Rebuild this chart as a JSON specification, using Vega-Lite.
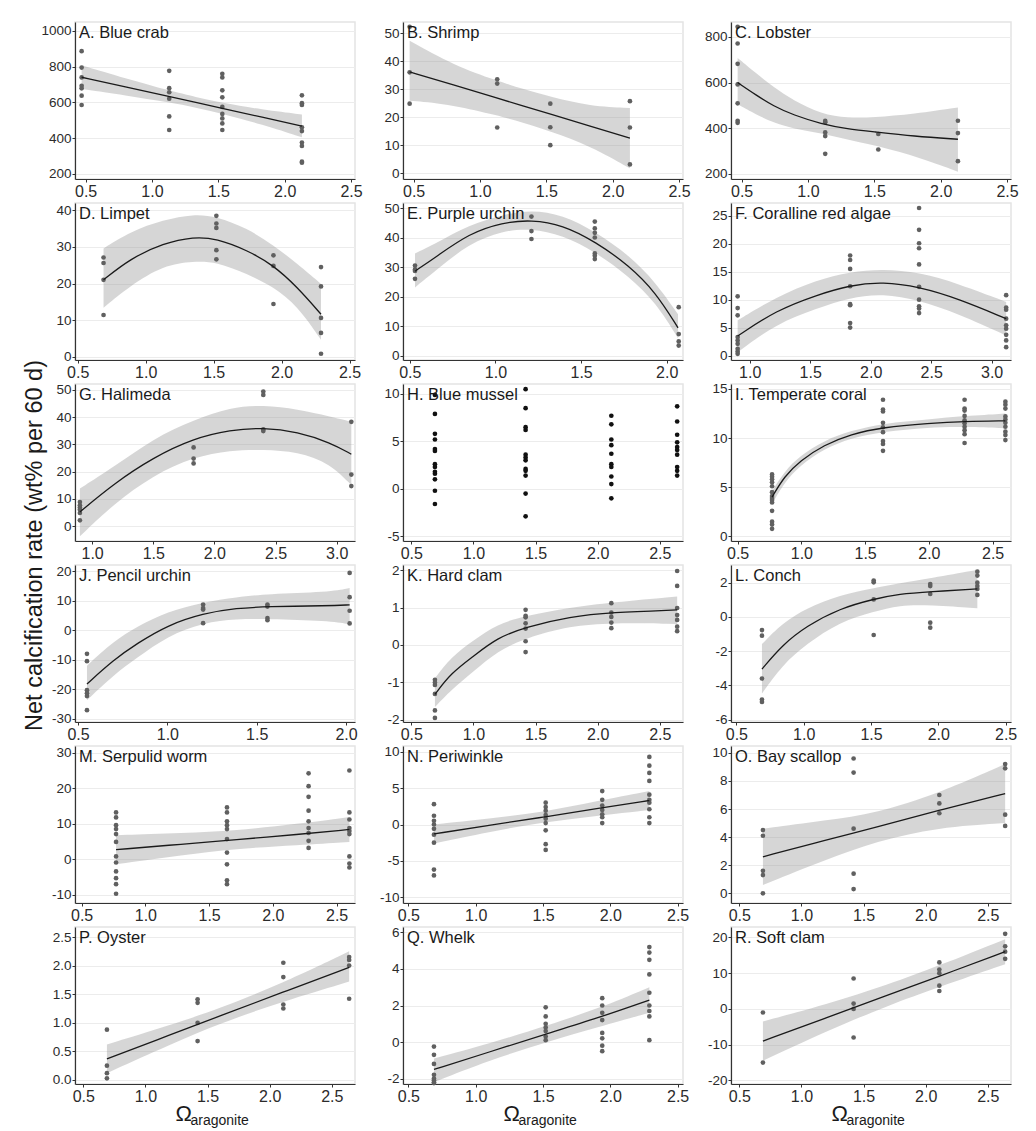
{
"$schema": "https://vega.github.io/schema/vega-lite/v6.json",
"background": "white",
"padding": {"left": 22, "top": 21, "right": 5, "bottom": 5},
"title": {"text": "Net calcification rate (wt% per 60 d)", "orient": "left", "anchor": "middle", "fontSize": 23.5, "font": "Liberation Sans", "fontWeight": "normal", "color": "#1a1a1a", "offset": -6, "dx": 29},
"datasets": {
"pts": [
{"p":"A","x":0.47,"y":887},{"p":"A","x":0.47,"y":795},{"p":"A","x":0.47,"y":740},{"p":"A","x":0.47,"y":693},{"p":"A","x":0.47,"y":679},{"p":"A","x":0.47,"y":638},{"p":"A","x":0.47,"y":586},
{"p":"A","x":1.13,"y":777},{"p":"A","x":1.13,"y":680},{"p":"A","x":1.13,"y":657},{"p":"A","x":1.13,"y":621},{"p":"A","x":1.13,"y":522},{"p":"A","x":1.13,"y":446},
{"p":"A","x":1.53,"y":760},{"p":"A","x":1.53,"y":740},{"p":"A","x":1.53,"y":668},{"p":"A","x":1.53,"y":629},{"p":"A","x":1.53,"y":575},{"p":"A","x":1.53,"y":536},{"p":"A","x":1.53,"y":511},{"p":"A","x":1.53,"y":483},{"p":"A","x":1.53,"y":446},
{"p":"A","x":2.13,"y":640},{"p":"A","x":2.13,"y":596},{"p":"A","x":2.13,"y":586},{"p":"A","x":2.13,"y":461},{"p":"A","x":2.13,"y":440},{"p":"A","x":2.13,"y":376},{"p":"A","x":2.13,"y":357},{"p":"A","x":2.13,"y":269},{"p":"A","x":2.13,"y":263},
{"p":"B","x":0.47,"y":52.4},{"p":"B","x":0.47,"y":36.1},{"p":"B","x":0.47,"y":24.9},{"p":"B","x":1.13,"y":33.6},{"p":"B","x":1.13,"y":32.1},{"p":"B","x":1.13,"y":16.4},{"p":"B","x":1.53,"y":24.9},{"p":"B","x":1.53,"y":16.5},{"p":"B","x":1.53,"y":10.1},{"p":"B","x":2.13,"y":25.8},{"p":"B","x":2.13,"y":16.4},{"p":"B","x":2.13,"y":3.2},
{"p":"C","x":0.47,"y":844},{"p":"C","x":0.47,"y":771},{"p":"C","x":0.47,"y":682},{"p":"C","x":0.47,"y":592},{"p":"C","x":0.47,"y":509},{"p":"C","x":0.47,"y":433},{"p":"C","x":0.47,"y":424},
{"p":"C","x":1.13,"y":432},{"p":"C","x":1.13,"y":426},{"p":"C","x":1.13,"y":382},{"p":"C","x":1.13,"y":366},{"p":"C","x":1.13,"y":288},{"p":"C","x":1.53,"y":375},{"p":"C","x":1.53,"y":307},{"p":"C","x":2.13,"y":433},{"p":"C","x":2.13,"y":379},{"p":"C","x":2.13,"y":256},
{"p":"D","x":0.69,"y":27.1},{"p":"D","x":0.69,"y":25.6},{"p":"D","x":0.69,"y":21.0},{"p":"D","x":0.69,"y":11.4},{"p":"D","x":1.52,"y":38.5},{"p":"D","x":1.52,"y":36.4},{"p":"D","x":1.52,"y":35.2},{"p":"D","x":1.52,"y":29.1},{"p":"D","x":1.52,"y":26.6},
{"p":"D","x":1.94,"y":27.7},{"p":"D","x":1.94,"y":24.8},{"p":"D","x":1.94,"y":14.4},{"p":"D","x":2.29,"y":24.5},{"p":"D","x":2.29,"y":19.2},{"p":"D","x":2.29,"y":10.6},{"p":"D","x":2.29,"y":6.5},{"p":"D","x":2.29,"y":0.8},
{"p":"E","x":0.53,"y":30.5},{"p":"E","x":0.53,"y":29.2},{"p":"E","x":0.53,"y":28.7},{"p":"E","x":0.53,"y":26.0},{"p":"E","x":1.21,"y":47.1},{"p":"E","x":1.21,"y":42.2},{"p":"E","x":1.21,"y":39.5},
{"p":"E","x":1.58,"y":45.4},{"p":"E","x":1.58,"y":43.1},{"p":"E","x":1.58,"y":41.6},{"p":"E","x":1.58,"y":40.0},{"p":"E","x":1.58,"y":34.6},{"p":"E","x":1.58,"y":33.8},{"p":"E","x":1.58,"y":32.7},
{"p":"E","x":2.07,"y":16.4},{"p":"E","x":2.07,"y":7.3},{"p":"E","x":2.07,"y":4.8},{"p":"E","x":2.07,"y":3.4},
{"p":"F","x":0.9,"y":10.6},{"p":"F","x":0.9,"y":8.5},{"p":"F","x":0.9,"y":7.2},{"p":"F","x":0.9,"y":3.3},{"p":"F","x":0.9,"y":2.7},{"p":"F","x":0.9,"y":2.1},{"p":"F","x":0.9,"y":1.2},{"p":"F","x":0.9,"y":0.7},{"p":"F","x":0.9,"y":0.3},
{"p":"F","x":1.83,"y":17.9},{"p":"F","x":1.83,"y":17.1},{"p":"F","x":1.83,"y":15.5},{"p":"F","x":1.83,"y":12.4},{"p":"F","x":1.83,"y":9.2},{"p":"F","x":1.83,"y":9.0},{"p":"F","x":1.83,"y":5.8},{"p":"F","x":1.83,"y":5.0},
{"p":"F","x":2.4,"y":26.4},{"p":"F","x":2.4,"y":22.5},{"p":"F","x":2.4,"y":20.1},{"p":"F","x":2.4,"y":19.2},{"p":"F","x":2.4,"y":16.3},{"p":"F","x":2.4,"y":12.3},{"p":"F","x":2.4,"y":10.0},{"p":"F","x":2.4,"y":8.8},{"p":"F","x":2.4,"y":8.4},{"p":"F","x":2.4,"y":7.6},
{"p":"F","x":3.12,"y":10.8},{"p":"F","x":3.12,"y":8.6},{"p":"F","x":3.12,"y":8.2},{"p":"F","x":3.12,"y":6.6},{"p":"F","x":3.12,"y":5.4},{"p":"F","x":3.12,"y":4.8},{"p":"F","x":3.12,"y":3.7},{"p":"F","x":3.12,"y":2.7},{"p":"F","x":3.12,"y":1.5},
{"p":"G","x":0.9,"y":8.8},{"p":"G","x":0.9,"y":7.6},{"p":"G","x":0.9,"y":6.8},{"p":"G","x":0.9,"y":6.0},{"p":"G","x":0.9,"y":4.8},{"p":"G","x":0.9,"y":2.1},{"p":"G","x":1.83,"y":28.9},{"p":"G","x":1.83,"y":24.8},{"p":"G","x":1.83,"y":23.0},
{"p":"G","x":2.4,"y":49.4},{"p":"G","x":2.4,"y":48.2},{"p":"G","x":2.4,"y":35.5},{"p":"G","x":2.4,"y":34.9},{"p":"G","x":3.12,"y":38.3},{"p":"G","x":3.12,"y":18.9},{"p":"G","x":3.12,"y":14.7},
{"p":"H","x":0.69,"y":9.9},{"p":"H","x":0.69,"y":7.9},{"p":"H","x":0.69,"y":5.8},{"p":"H","x":0.69,"y":5.2},{"p":"H","x":0.69,"y":4.2},{"p":"H","x":0.69,"y":4.0},{"p":"H","x":0.69,"y":2.6},{"p":"H","x":0.69,"y":2.3},{"p":"H","x":0.69,"y":1.8},{"p":"H","x":0.69,"y":1.6},{"p":"H","x":0.69,"y":1.0},{"p":"H","x":0.69,"y":-0.2},{"p":"H","x":0.69,"y":-1.6},
{"p":"H","x":1.42,"y":10.5},{"p":"H","x":1.42,"y":8.5},{"p":"H","x":1.42,"y":6.5},{"p":"H","x":1.42,"y":6.2},{"p":"H","x":1.42,"y":3.6},{"p":"H","x":1.42,"y":3.3},{"p":"H","x":1.42,"y":3.0},{"p":"H","x":1.42,"y":2.1},{"p":"H","x":1.42,"y":1.9},{"p":"H","x":1.42,"y":1.4},{"p":"H","x":1.42,"y":-0.5},{"p":"H","x":1.42,"y":-2.9},
{"p":"H","x":2.11,"y":7.7},{"p":"H","x":2.11,"y":6.8},{"p":"H","x":2.11,"y":5.2},{"p":"H","x":2.11,"y":4.6},{"p":"H","x":2.11,"y":3.7},{"p":"H","x":2.11,"y":2.6},{"p":"H","x":2.11,"y":2.3},{"p":"H","x":2.11,"y":1.3},{"p":"H","x":2.11,"y":0.5},{"p":"H","x":2.11,"y":-1.0},
{"p":"H","x":2.64,"y":8.7},{"p":"H","x":2.64,"y":7.1},{"p":"H","x":2.64,"y":5.7},{"p":"H","x":2.64,"y":4.9},{"p":"H","x":2.64,"y":4.4},{"p":"H","x":2.64,"y":4.1},{"p":"H","x":2.64,"y":3.6},{"p":"H","x":2.64,"y":2.3},{"p":"H","x":2.64,"y":1.9},{"p":"H","x":2.64,"y":1.4},
{"p":"I","x":0.77,"y":6.3},{"p":"I","x":0.77,"y":6.06},{"p":"I","x":0.77,"y":5.8},{"p":"I","x":0.77,"y":5.5},{"p":"I","x":0.77,"y":5.1},{"p":"I","x":0.77,"y":4.5},{"p":"I","x":0.77,"y":4.1},{"p":"I","x":0.77,"y":3.9},{"p":"I","x":0.77,"y":3.7},{"p":"I","x":0.77,"y":3.45},{"p":"I","x":0.77,"y":2.6},{"p":"I","x":0.77,"y":1.5},{"p":"I","x":0.77,"y":1.2},{"p":"I","x":0.77,"y":0.77},
{"p":"I","x":1.64,"y":13.9},{"p":"I","x":1.64,"y":12.9},{"p":"I","x":1.64,"y":12.7},{"p":"I","x":1.64,"y":11.55},{"p":"I","x":1.64,"y":11.1},{"p":"I","x":1.64,"y":10.6},{"p":"I","x":1.64,"y":9.7},{"p":"I","x":1.64,"y":9.4},{"p":"I","x":1.64,"y":8.7},
{"p":"I","x":2.28,"y":13.9},{"p":"I","x":2.28,"y":13.0},{"p":"I","x":2.28,"y":12.8},{"p":"I","x":2.28,"y":12.25},{"p":"I","x":2.28,"y":11.8},{"p":"I","x":2.28,"y":11.5},{"p":"I","x":2.28,"y":11.15},{"p":"I","x":2.28,"y":10.8},{"p":"I","x":2.28,"y":10.4},{"p":"I","x":2.28,"y":9.5},
{"p":"I","x":2.6,"y":13.7},{"p":"I","x":2.6,"y":13.4},{"p":"I","x":2.6,"y":13.0},{"p":"I","x":2.6,"y":12.2},{"p":"I","x":2.6,"y":11.9},{"p":"I","x":2.6,"y":11.55},{"p":"I","x":2.6,"y":11.15},{"p":"I","x":2.6,"y":10.65},{"p":"I","x":2.6,"y":10.3},{"p":"I","x":2.6,"y":9.8},
{"p":"J","x":0.55,"y":-8.0},{"p":"J","x":0.55,"y":-10.5},{"p":"J","x":0.55,"y":-20.3},{"p":"J","x":0.55,"y":-21.4},{"p":"J","x":0.55,"y":-22.3},{"p":"J","x":0.55,"y":-27.1},
{"p":"J","x":1.2,"y":8.7},{"p":"J","x":1.2,"y":7.5},{"p":"J","x":1.2,"y":7.0},{"p":"J","x":1.2,"y":2.4},{"p":"J","x":1.56,"y":8.7},{"p":"J","x":1.56,"y":8.0},{"p":"J","x":1.56,"y":4.1},{"p":"J","x":1.56,"y":3.4},
{"p":"J","x":2.02,"y":19.4},{"p":"J","x":2.02,"y":11.2},{"p":"J","x":2.02,"y":6.6},{"p":"J","x":2.02,"y":2.3},
{"p":"K","x":0.69,"y":-0.93},{"p":"K","x":0.69,"y":-1.0},{"p":"K","x":0.69,"y":-1.07},{"p":"K","x":0.69,"y":-1.31},{"p":"K","x":0.69,"y":-1.75},{"p":"K","x":0.69,"y":-1.95},
{"p":"K","x":1.42,"y":0.94},{"p":"K","x":1.42,"y":0.78},{"p":"K","x":1.42,"y":0.74},{"p":"K","x":1.42,"y":0.58},{"p":"K","x":1.42,"y":0.44},{"p":"K","x":1.42,"y":0.1},{"p":"K","x":1.42,"y":-0.19},
{"p":"K","x":2.11,"y":1.12},{"p":"K","x":2.11,"y":0.87},{"p":"K","x":2.11,"y":0.75},{"p":"K","x":2.11,"y":0.6},{"p":"K","x":2.11,"y":0.45},
{"p":"K","x":2.64,"y":1.98},{"p":"K","x":2.64,"y":1.58},{"p":"K","x":2.64,"y":0.99},{"p":"K","x":2.64,"y":0.8},{"p":"K","x":2.64,"y":0.67},{"p":"K","x":2.64,"y":0.49},{"p":"K","x":2.64,"y":0.37},
{"p":"L","x":0.69,"y":-0.77},{"p":"L","x":0.69,"y":-1.1},{"p":"L","x":0.69,"y":-3.6},{"p":"L","x":0.69,"y":-4.83},{"p":"L","x":0.69,"y":-4.97},
{"p":"L","x":1.52,"y":2.12},{"p":"L","x":1.52,"y":2.02},{"p":"L","x":1.52,"y":1.02},{"p":"L","x":1.52,"y":-1.06},
{"p":"L","x":1.94,"y":1.92},{"p":"L","x":1.94,"y":1.8},{"p":"L","x":1.94,"y":1.34},{"p":"L","x":1.94,"y":-0.34},{"p":"L","x":1.94,"y":-0.63},
{"p":"L","x":2.29,"y":2.64},{"p":"L","x":2.29,"y":2.41},{"p":"L","x":2.29,"y":2.0},{"p":"L","x":2.29,"y":1.8},{"p":"L","x":2.29,"y":1.63},{"p":"L","x":2.29,"y":1.28},
{"p":"M","x":0.77,"y":13.2},{"p":"M","x":0.77,"y":11.8},{"p":"M","x":0.77,"y":9.6},{"p":"M","x":0.77,"y":8.5},{"p":"M","x":0.77,"y":7.1},{"p":"M","x":0.77,"y":4.9},{"p":"M","x":0.77,"y":0.8},{"p":"M","x":0.77,"y":-0.9},{"p":"M","x":0.77,"y":-3.4},{"p":"M","x":0.77,"y":-5.3},{"p":"M","x":0.77,"y":-7.0},{"p":"M","x":0.77,"y":-9.7},
{"p":"M","x":1.64,"y":14.6},{"p":"M","x":1.64,"y":13.2},{"p":"M","x":1.64,"y":10.7},{"p":"M","x":1.64,"y":9.6},{"p":"M","x":1.64,"y":8.5},{"p":"M","x":1.64,"y":5.7},{"p":"M","x":1.64,"y":1.9},{"p":"M","x":1.64,"y":-1.4},{"p":"M","x":1.64,"y":-5.9},{"p":"M","x":1.64,"y":-7.0},
{"p":"M","x":2.28,"y":24.2},{"p":"M","x":2.28,"y":20.6},{"p":"M","x":2.28,"y":17.6},{"p":"M","x":2.28,"y":13.7},{"p":"M","x":2.28,"y":10.7},{"p":"M","x":2.28,"y":8.8},{"p":"M","x":2.28,"y":7.4},{"p":"M","x":2.28,"y":5.2},{"p":"M","x":2.28,"y":3.2},
{"p":"M","x":2.6,"y":25.0},{"p":"M","x":2.6,"y":13.2},{"p":"M","x":2.6,"y":11.2},{"p":"M","x":2.6,"y":8.8},{"p":"M","x":2.6,"y":8.0},{"p":"M","x":2.6,"y":7.1},{"p":"M","x":2.6,"y":0.8},{"p":"M","x":2.6,"y":-1.2},{"p":"M","x":2.6,"y":-2.3},
{"p":"N","x":0.69,"y":2.8},{"p":"N","x":0.69,"y":1.2},{"p":"N","x":0.69,"y":0.5},{"p":"N","x":0.69,"y":0.0},{"p":"N","x":0.69,"y":-0.6},{"p":"N","x":0.69,"y":-1.4},{"p":"N","x":0.69,"y":-2.5},{"p":"N","x":0.69,"y":-6.2},{"p":"N","x":0.69,"y":-7.0},
{"p":"N","x":1.52,"y":3.0},{"p":"N","x":1.52,"y":2.4},{"p":"N","x":1.52,"y":1.9},{"p":"N","x":1.52,"y":1.3},{"p":"N","x":1.52,"y":0.8},{"p":"N","x":1.52,"y":0.2},{"p":"N","x":1.52,"y":-0.8},{"p":"N","x":1.52,"y":-2.7},{"p":"N","x":1.52,"y":-3.5},
{"p":"N","x":1.94,"y":4.6},{"p":"N","x":1.94,"y":3.4},{"p":"N","x":1.94,"y":2.6},{"p":"N","x":1.94,"y":2.0},{"p":"N","x":1.94,"y":1.4},{"p":"N","x":1.94,"y":1.0},{"p":"N","x":1.94,"y":0.2},
{"p":"N","x":2.29,"y":9.3},{"p":"N","x":2.29,"y":8.1},{"p":"N","x":2.29,"y":7.1},{"p":"N","x":2.29,"y":6.0},{"p":"N","x":2.29,"y":4.1},{"p":"N","x":2.29,"y":3.4},{"p":"N","x":2.29,"y":3.0},{"p":"N","x":2.29,"y":2.1},{"p":"N","x":2.29,"y":1.0},{"p":"N","x":2.29,"y":0.2},
{"p":"O","x":0.69,"y":4.5},{"p":"O","x":0.69,"y":4.1},{"p":"O","x":0.69,"y":1.6},{"p":"O","x":0.69,"y":1.3},{"p":"O","x":0.69,"y":0.0},
{"p":"O","x":1.42,"y":9.6},{"p":"O","x":1.42,"y":8.6},{"p":"O","x":1.42,"y":4.6},{"p":"O","x":1.42,"y":1.4},{"p":"O","x":1.42,"y":0.3},
{"p":"O","x":2.11,"y":7.0},{"p":"O","x":2.11,"y":6.4},{"p":"O","x":2.11,"y":5.7},{"p":"O","x":2.64,"y":9.2},{"p":"O","x":2.64,"y":8.9},{"p":"O","x":2.64,"y":5.6},{"p":"O","x":2.64,"y":4.8},
{"p":"P","x":0.69,"y":0.88},{"p":"P","x":0.69,"y":0.25},{"p":"P","x":0.69,"y":0.12},{"p":"P","x":0.69,"y":0.03},{"p":"P","x":1.42,"y":1.41},{"p":"P","x":1.42,"y":1.35},{"p":"P","x":1.42,"y":1.0},{"p":"P","x":1.42,"y":0.68},
{"p":"P","x":2.11,"y":2.05},{"p":"P","x":2.11,"y":1.8},{"p":"P","x":2.11,"y":1.32},{"p":"P","x":2.11,"y":1.25},{"p":"P","x":2.64,"y":2.15},{"p":"P","x":2.64,"y":2.1},{"p":"P","x":2.64,"y":2.0},{"p":"P","x":2.64,"y":1.42},
{"p":"Q","x":0.69,"y":-0.25},{"p":"Q","x":0.69,"y":-0.7},{"p":"Q","x":0.69,"y":-1.2},{"p":"Q","x":0.69,"y":-1.8},{"p":"Q","x":0.69,"y":-2.0},{"p":"Q","x":0.69,"y":-2.1},{"p":"Q","x":0.69,"y":-2.2},{"p":"Q","x":0.69,"y":-2.25},
{"p":"Q","x":1.52,"y":1.9},{"p":"Q","x":1.52,"y":1.4},{"p":"Q","x":1.52,"y":1.0},{"p":"Q","x":1.52,"y":0.8},{"p":"Q","x":1.52,"y":0.6},{"p":"Q","x":1.52,"y":0.3},{"p":"Q","x":1.52,"y":0.1},
{"p":"Q","x":1.94,"y":2.4},{"p":"Q","x":1.94,"y":2.0},{"p":"Q","x":1.94,"y":1.6},{"p":"Q","x":1.94,"y":1.2},{"p":"Q","x":1.94,"y":0.5},{"p":"Q","x":1.94,"y":0.2},{"p":"Q","x":1.94,"y":-0.2},{"p":"Q","x":1.94,"y":-0.5},
{"p":"Q","x":2.29,"y":5.2},{"p":"Q","x":2.29,"y":4.9},{"p":"Q","x":2.29,"y":4.5},{"p":"Q","x":2.29,"y":3.7},{"p":"Q","x":2.29,"y":2.7},{"p":"Q","x":2.29,"y":2.0},{"p":"Q","x":2.29,"y":1.7},{"p":"Q","x":2.29,"y":1.4},{"p":"Q","x":2.29,"y":0.1},
{"p":"R","x":0.69,"y":-1.0},{"p":"R","x":0.69,"y":-15.0},{"p":"R","x":1.42,"y":8.5},{"p":"R","x":1.42,"y":1.5},{"p":"R","x":1.42,"y":0.0},{"p":"R","x":1.42,"y":-8.0},
{"p":"R","x":2.11,"y":13.0},{"p":"R","x":2.11,"y":11.0},{"p":"R","x":2.11,"y":10.0},{"p":"R","x":2.11,"y":6.5},{"p":"R","x":2.11,"y":5.0},{"p":"R","x":2.64,"y":21.0},{"p":"R","x":2.64,"y":17.5},{"p":"R","x":2.64,"y":16.0},{"p":"R","x":2.64,"y":14.0}
],
"fit": [
{"p":"A","x":0.47,"y":741,"lo":675,"hi":808},{"p":"A","x":0.8,"y":687,"lo":640,"hi":735},{"p":"A","x":1.13,"y":633,"lo":600,"hi":667},{"p":"A","x":1.33,"y":600,"lo":572,"hi":630},{"p":"A","x":1.53,"y":567,"lo":537,"hi":598},{"p":"A","x":1.83,"y":518,"lo":477,"hi":560},{"p":"A","x":2.13,"y":468,"lo":405,"hi":533},
{"p":"B","x":0.47,"y":36.3,"lo":26,"hi":47.4},{"p":"B","x":0.8,"y":31.6,"lo":24.5,"hi":38.7},{"p":"B","x":1.13,"y":26.9,"lo":20.7,"hi":33.1},{"p":"B","x":1.32,"y":24.2,"lo":18.2,"hi":30.2},{"p":"B","x":1.53,"y":21.2,"lo":15,"hi":27.4},{"p":"B","x":1.83,"y":16.9,"lo":9.8,"hi":24},{"p":"B","x":2.13,"y":12.6,"lo":1.8,"hi":23.4},
{"p":"C","x":0.47,"y":600,"lo":505,"hi":708},{"p":"C","x":0.61,"y":545,"lo":460,"hi":640},{"p":"C","x":0.74,"y":497,"lo":425,"hi":580},{"p":"C","x":0.89,"y":458,"lo":398,"hi":522},{"p":"C","x":1.1,"y":419,"lo":378,"hi":462},{"p":"C","x":1.3,"y":397,"lo":350,"hi":445},{"p":"C","x":1.49,"y":385,"lo":327,"hi":447},{"p":"C","x":1.8,"y":365,"lo":280,"hi":462},{"p":"C","x":2.13,"y":352,"lo":210,"hi":491},
{"p":"D","x":0.69,"y":21,"lo":13.4,"hi":29.6},{"p":"D","x":0.886,"y":26.8,"lo":19.4,"hi":34.2},{"p":"D","x":1.13,"y":31,"lo":25,"hi":37.4},{"p":"D","x":1.354,"y":32.8,"lo":26.1,"hi":39},{"p":"D","x":1.52,"y":32.3,"lo":25.9,"hi":38.3},{"p":"D","x":1.747,"y":29.1,"lo":22.6,"hi":35.1},{"p":"D","x":1.94,"y":25,"lo":19.1,"hi":30.5},{"p":"D","x":2.116,"y":19,"lo":13.9,"hi":25.4},{"p":"D","x":2.29,"y":11.6,"lo":4.6,"hi":19.9},
{"p":"E","x":0.53,"y":28.6,"lo":23.1,"hi":34.6},{"p":"E","x":0.652,"y":33.4,"lo":28.8,"hi":38},{"p":"E","x":0.846,"y":41.4,"lo":38,"hi":44.3},{"p":"E","x":1.041,"y":45.1,"lo":42.3,"hi":47.7},{"p":"E","x":1.21,"y":46,"lo":43.1,"hi":49.4},{"p":"E","x":1.391,"y":44.3,"lo":40.8,"hi":47.7},{"p":"E","x":1.584,"y":38.6,"lo":35.1,"hi":42},{"p":"E","x":1.78,"y":30.5,"lo":26.8,"hi":34},{"p":"E","x":1.936,"y":21.4,"lo":18,"hi":24.8},{"p":"E","x":2.066,"y":9.4,"lo":5.9,"hi":14},
{"p":"F","x":0.9,"y":3.5,"lo":0.6,"hi":6.3},{"p":"F","x":1.22,"y":8.1,"lo":5.7,"hi":10.5},{"p":"F","x":1.55,"y":10.8,"lo":8.4,"hi":13.5},{"p":"F","x":1.83,"y":12.6,"lo":10.4,"hi":15},{"p":"F","x":2.1,"y":13.2,"lo":11.1,"hi":15.5},{"p":"F","x":2.4,"y":12.3,"lo":9.9,"hi":14.9},{"p":"F","x":2.72,"y":10.2,"lo":7.5,"hi":12.9},{"p":"F","x":3.12,"y":6.6,"lo":3.6,"hi":9.6},
{"p":"G","x":0.9,"y":5.2,"lo":-3.8,"hi":13.8},{"p":"G","x":1.178,"y":15.6,"lo":8.2,"hi":21.7},{"p":"G","x":1.5,"y":25.2,"lo":18.7,"hi":32.2},{"p":"G","x":1.83,"y":32.2,"lo":25.4,"hi":38.9},{"p":"G","x":2.13,"y":35.3,"lo":27.9,"hi":43.6},{"p":"G","x":2.4,"y":36.2,"lo":28.1,"hi":44.5},{"p":"G","x":2.68,"y":34.6,"lo":27.3,"hi":42.9},{"p":"G","x":2.95,"y":30.6,"lo":23,"hi":40.2},{"p":"G","x":3.12,"y":26.4,"lo":15,"hi":38.3},
{"p":"I","x":0.77,"y":4,"lo":3.3,"hi":4.6},{"p":"I","x":0.866,"y":6.1,"lo":5.5,"hi":6.6},{"p":"I","x":0.99,"y":7.7,"lo":7.2,"hi":8.2},{"p":"I","x":1.178,"y":9.3,"lo":8.9,"hi":9.75},{"p":"I","x":1.387,"y":10.4,"lo":10,"hi":10.75},{"p":"I","x":1.64,"y":11.1,"lo":10.65,"hi":11.5},{"p":"I","x":2,"y":11.5,"lo":11.1,"hi":11.9},{"p":"I","x":2.28,"y":11.7,"lo":11.15,"hi":12.25},{"p":"I","x":2.6,"y":11.75,"lo":11,"hi":12.5},
{"p":"J","x":0.55,"y":-18.2,"lo":-23.7,"hi":-12},{"p":"J","x":0.7,"y":-10,"lo":-15.1,"hi":-3.7},{"p":"J","x":0.83,"y":-4.5,"lo":-9.4,"hi":1.2},{"p":"J","x":1,"y":1.7,"lo":-2,"hi":6.3},{"p":"J","x":1.2,"y":5.7,"lo":2.6,"hi":9.5},{"p":"J","x":1.39,"y":7.5,"lo":3.8,"hi":11.2},{"p":"J","x":1.556,"y":8,"lo":3.8,"hi":12.3},{"p":"J","x":1.9,"y":8.3,"lo":3.2,"hi":12.9},{"p":"J","x":2.02,"y":8.6,"lo":2,"hi":14.3},
{"p":"K","x":0.69,"y":-1.32,"lo":-1.66,"hi":-0.89},{"p":"K","x":0.82,"y":-0.75,"lo":-1.2,"hi":-0.32},{"p":"K","x":1,"y":-0.3,"lo":-0.71,"hi":0.12},{"p":"K","x":1.19,"y":0.19,"lo":-0.17,"hi":0.56},{"p":"K","x":1.42,"y":0.48,"lo":0.19,"hi":0.78},{"p":"K","x":1.78,"y":0.76,"lo":0.51,"hi":1},{"p":"K","x":2.11,"y":0.87,"lo":0.6,"hi":1.14},{"p":"K","x":2.64,"y":0.94,"lo":0.56,"hi":1.3},
{"p":"L","x":0.69,"y":-3.05,"lo":-4.48,"hi":-1.59},{"p":"L","x":0.84,"y":-1.65,"lo":-2.82,"hi":-0.38},{"p":"L","x":1.02,"y":-0.54,"lo":-1.59,"hi":0.5},{"p":"L","x":1.27,"y":0.5,"lo":-0.28,"hi":1.28},{"p":"L","x":1.52,"y":1.04,"lo":0.3,"hi":1.67},{"p":"L","x":1.71,"y":1.34,"lo":0.69,"hi":1.96},{"p":"L","x":1.94,"y":1.47,"lo":0.69,"hi":2.25},{"p":"L","x":2.29,"y":1.63,"lo":0.5,"hi":2.74},
{"p":"M","x":0.77,"y":2.7,"lo":-1.4,"hi":6.8},{"p":"M","x":1.3,"y":4.3,"lo":1.2,"hi":7.4},{"p":"M","x":1.7,"y":5.5,"lo":3,"hi":8},{"p":"M","x":2.2,"y":7,"lo":4,"hi":10},{"p":"M","x":2.6,"y":8.4,"lo":4.9,"hi":11.9},
{"p":"N","x":0.69,"y":-1.3,"lo":-2.6,"hi":0},{"p":"N","x":1.1,"y":-0.1,"lo":-1,"hi":0.8},{"p":"N","x":1.5,"y":1,"lo":0.3,"hi":1.7},{"p":"N","x":1.9,"y":2.2,"lo":1.2,"hi":3.2},{"p":"N","x":2.29,"y":3.3,"lo":2,"hi":4.6},
{"p":"O","x":0.69,"y":2.6,"lo":0.6,"hi":4.6},{"p":"O","x":1.2,"y":3.8,"lo":2.4,"hi":5.2},{"p":"O","x":1.6,"y":4.7,"lo":3.7,"hi":5.7},{"p":"O","x":2.1,"y":5.9,"lo":4.7,"hi":7.1},{"p":"O","x":2.64,"y":7.1,"lo":5,"hi":9.2},
{"p":"P","x":0.69,"y":0.37,"lo":0.12,"hi":0.62},{"p":"P","x":1.2,"y":0.79,"lo":0.62,"hi":0.96},{"p":"P","x":1.6,"y":1.12,"lo":0.99,"hi":1.25},{"p":"P","x":2.1,"y":1.53,"lo":1.37,"hi":1.69},{"p":"P","x":2.64,"y":1.97,"lo":1.72,"hi":2.25},
{"p":"Q","x":0.69,"y":-1.5,"lo":-2.2,"hi":-0.9},{"p":"Q","x":1.1,"y":-0.55,"lo":-1,"hi":-0.1},{"p":"Q","x":1.55,"y":0.5,"lo":0.05,"hi":0.95},{"p":"Q","x":1.9,"y":1.3,"lo":0.8,"hi":1.8},{"p":"Q","x":2.29,"y":2.3,"lo":1.6,"hi":3},
{"p":"R","x":0.69,"y":-9,"lo":-14.5,"hi":-3.5},{"p":"R","x":1.2,"y":-2.5,"lo":-6.2,"hi":1.2},{"p":"R","x":1.7,"y":3.9,"lo":1,"hi":6.8},{"p":"R","x":2.1,"y":9,"lo":6,"hi":12},{"p":"R","x":2.64,"y":16,"lo":12.5,"hi":19.5}
]
},
"columns": 3,
"spacing": {"row": 24, "column": 48},
"bounds": "flush",
"concat": [
{"width":280,"height":157,"layer":[
{"data":{"name":"fit"},"transform":[{"filter":"datum.p==='A'"}],"mark":"area","encoding":{"x":{"field":"x","type":"quantitative","title":null,"scale":{"domain":[0.42,2.53],"nice":false,"zero":false},"axis":{"values":[0.5,1,1.5,2,2.5]}},"y":{"field":"lo","type":"quantitative","title":null,"scale":{"domain":[172,1050],"nice":false,"zero":false},"axis":{"values":[200,400,600,800,1000],"tickCount":20}},"y2":{"field":"hi"}}},
{"data":{"name":"pts"},"transform":[{"filter":"datum.p==='A'"}],"mark":"circle","encoding":{"x":{"field":"x","type":"quantitative","title":null},"y":{"field":"y","type":"quantitative","title":null}}},
{"data":{"name":"fit"},"transform":[{"filter":"datum.p==='A'"}],"mark":"line","encoding":{"x":{"field":"x","type":"quantitative","title":null},"y":{"field":"y","type":"quantitative","title":null}}},
{"data":{"values":[{}]},"mark":{"type":"text","text":"A. Blue crab","align":"left","baseline":"top","dx":4,"dy":3,"fontSize":16.5,"color":"#1a1a1a"},"encoding":{"x":{"datum":0.42},"y":{"datum":1050}}}]},
{"width":280,"height":157,"layer":[
{"data":{"name":"fit"},"transform":[{"filter":"datum.p==='B'"}],"mark":"area","encoding":{"x":{"field":"x","type":"quantitative","title":null,"scale":{"domain":[0.42,2.53],"nice":false,"zero":false},"axis":{"values":[0.5,1,1.5,2,2.5]}},"y":{"field":"lo","type":"quantitative","title":null,"scale":{"domain":[-2,54.1],"nice":false,"zero":false},"axis":{"values":[0,10,20,30,40,50],"tickCount":20}},"y2":{"field":"hi"}}},
{"data":{"name":"pts"},"transform":[{"filter":"datum.p==='B'"}],"mark":"circle","encoding":{"x":{"field":"x","type":"quantitative","title":null},"y":{"field":"y","type":"quantitative","title":null}}},
{"data":{"name":"fit"},"transform":[{"filter":"datum.p==='B'"}],"mark":"line","encoding":{"x":{"field":"x","type":"quantitative","title":null},"y":{"field":"y","type":"quantitative","title":null}}},
{"data":{"values":[{}]},"mark":{"type":"text","text":"B. Shrimp","align":"left","baseline":"top","dx":4,"dy":3,"fontSize":16.5,"color":"#1a1a1a"},"encoding":{"x":{"datum":0.42},"y":{"datum":54.1}}}]},
{"width":280,"height":157,"layer":[
{"data":{"name":"fit"},"transform":[{"filter":"datum.p==='C'"}],"mark":"area","encoding":{"x":{"field":"x","type":"quantitative","title":null,"scale":{"domain":[0.42,2.53],"nice":false,"zero":false},"axis":{"values":[0.5,1,1.5,2,2.5]}},"y":{"field":"lo","type":"quantitative","title":null,"scale":{"domain":[178,865],"nice":false,"zero":false},"axis":{"values":[200,400,600,800],"tickCount":20}},"y2":{"field":"hi"}}},
{"data":{"name":"pts"},"transform":[{"filter":"datum.p==='C'"}],"mark":"circle","encoding":{"x":{"field":"x","type":"quantitative","title":null},"y":{"field":"y","type":"quantitative","title":null}}},
{"data":{"name":"fit"},"transform":[{"filter":"datum.p==='C'"}],"mark":"line","encoding":{"x":{"field":"x","type":"quantitative","title":null},"y":{"field":"y","type":"quantitative","title":null}}},
{"data":{"values":[{}]},"mark":{"type":"text","text":"C. Lobster","align":"left","baseline":"top","dx":4,"dy":3,"fontSize":16.5,"color":"#1a1a1a"},"encoding":{"x":{"datum":0.42},"y":{"datum":865}}}]},
{"width":280,"height":157,"layer":[
{"data":{"name":"fit"},"transform":[{"filter":"datum.p==='D'"}],"mark":"area","encoding":{"x":{"field":"x","type":"quantitative","title":null,"scale":{"domain":[0.48,2.54],"nice":false,"zero":false},"axis":{"values":[0.5,1,1.5,2,2.5]}},"y":{"field":"lo","type":"quantitative","title":null,"scale":{"domain":[-0.9,42],"nice":false,"zero":false},"axis":{"values":[0,10,20,30,40],"tickCount":20}},"y2":{"field":"hi"}}},
{"data":{"name":"pts"},"transform":[{"filter":"datum.p==='D'"}],"mark":"circle","encoding":{"x":{"field":"x","type":"quantitative","title":null},"y":{"field":"y","type":"quantitative","title":null}}},
{"data":{"name":"fit"},"transform":[{"filter":"datum.p==='D'"}],"mark":"line","encoding":{"x":{"field":"x","type":"quantitative","title":null},"y":{"field":"y","type":"quantitative","title":null}}},
{"data":{"values":[{}]},"mark":{"type":"text","text":"D. Limpet","align":"left","baseline":"top","dx":4,"dy":3,"fontSize":16.5,"color":"#1a1a1a"},"encoding":{"x":{"datum":0.48},"y":{"datum":42}}}]},
{"width":280,"height":157,"layer":[
{"data":{"name":"fit"},"transform":[{"filter":"datum.p==='E'"}],"mark":"area","encoding":{"x":{"field":"x","type":"quantitative","title":null,"scale":{"domain":[0.46,2.095],"nice":false,"zero":false},"axis":{"values":[0.5,1,1.5,2]}},"y":{"field":"lo","type":"quantitative","title":null,"scale":{"domain":[-1.5,51.7],"nice":false,"zero":false},"axis":{"values":[0,10,20,30,40,50],"tickCount":20}},"y2":{"field":"hi"}}},
{"data":{"name":"pts"},"transform":[{"filter":"datum.p==='E'"}],"mark":"circle","encoding":{"x":{"field":"x","type":"quantitative","title":null},"y":{"field":"y","type":"quantitative","title":null}}},
{"data":{"name":"fit"},"transform":[{"filter":"datum.p==='E'"}],"mark":"line","encoding":{"x":{"field":"x","type":"quantitative","title":null},"y":{"field":"y","type":"quantitative","title":null}}},
{"data":{"values":[{}]},"mark":{"type":"text","text":"E. Purple urchin","align":"left","baseline":"top","dx":4,"dy":3,"fontSize":16.5,"color":"#1a1a1a"},"encoding":{"x":{"datum":0.46},"y":{"datum":51.7}}}]},
{"width":280,"height":157,"layer":[
{"data":{"name":"fit"},"transform":[{"filter":"datum.p==='F'"}],"mark":"area","encoding":{"x":{"field":"x","type":"quantitative","title":null,"scale":{"domain":[0.845,3.16],"nice":false,"zero":false},"axis":{"values":[1,1.5,2,2.5,3]}},"y":{"field":"lo","type":"quantitative","title":null,"scale":{"domain":[-0.8,27.3],"nice":false,"zero":false},"axis":{"values":[0,5,10,15,20,25],"tickCount":20}},"y2":{"field":"hi"}}},
{"data":{"name":"pts"},"transform":[{"filter":"datum.p==='F'"}],"mark":"circle","encoding":{"x":{"field":"x","type":"quantitative","title":null},"y":{"field":"y","type":"quantitative","title":null}}},
{"data":{"name":"fit"},"transform":[{"filter":"datum.p==='F'"}],"mark":"line","encoding":{"x":{"field":"x","type":"quantitative","title":null},"y":{"field":"y","type":"quantitative","title":null}}},
{"data":{"values":[{}]},"mark":{"type":"text","text":"F. Coralline red algae","align":"left","baseline":"top","dx":4,"dy":3,"fontSize":16.5,"color":"#1a1a1a"},"encoding":{"x":{"datum":0.845},"y":{"datum":27.3}}}]},
{"width":280,"height":157,"layer":[
{"data":{"name":"fit"},"transform":[{"filter":"datum.p==='G'"}],"mark":"area","encoding":{"x":{"field":"x","type":"quantitative","title":null,"scale":{"domain":[0.86,3.15],"nice":false,"zero":false},"axis":{"values":[1,1.5,2,2.5,3]}},"y":{"field":"lo","type":"quantitative","title":null,"scale":{"domain":[-5.5,52.2],"nice":false,"zero":false},"axis":{"values":[0,10,20,30,40,50],"tickCount":20}},"y2":{"field":"hi"}}},
{"data":{"name":"pts"},"transform":[{"filter":"datum.p==='G'"}],"mark":"circle","encoding":{"x":{"field":"x","type":"quantitative","title":null},"y":{"field":"y","type":"quantitative","title":null}}},
{"data":{"name":"fit"},"transform":[{"filter":"datum.p==='G'"}],"mark":"line","encoding":{"x":{"field":"x","type":"quantitative","title":null},"y":{"field":"y","type":"quantitative","title":null}}},
{"data":{"values":[{}]},"mark":{"type":"text","text":"G. Halimeda","align":"left","baseline":"top","dx":4,"dy":3,"fontSize":16.5,"color":"#1a1a1a"},"encoding":{"x":{"datum":0.86},"y":{"datum":52.2}}}]},
{"width":280,"height":157,"layer":[
{"data":{"name":"pts"},"transform":[{"filter":"datum.p==='H'"}],"mark":{"type":"circle","color":"#111111"},"encoding":{"x":{"field":"x","type":"quantitative","title":null,"scale":{"domain":[0.433,2.687],"nice":false,"zero":false},"axis":{"values":[0.5,1,1.5,2,2.5]}},"y":{"field":"y","type":"quantitative","title":null,"scale":{"domain":[-5.5,11.05],"nice":false,"zero":false},"axis":{"values":[-5,0,5,10],"tickCount":20}}}},
{"data":{"values":[{}]},"mark":{"type":"text","text":"H. Blue mussel","align":"left","baseline":"top","dx":4,"dy":3,"fontSize":16.5,"color":"#1a1a1a"},"encoding":{"x":{"datum":0.433},"y":{"datum":11.05}}}]},
{"width":280,"height":157,"layer":[
{"data":{"name":"fit"},"transform":[{"filter":"datum.p==='I'"}],"mark":"area","encoding":{"x":{"field":"x","type":"quantitative","title":null,"scale":{"domain":[0.448,2.644],"nice":false,"zero":false},"axis":{"values":[0.5,1,1.5,2,2.5]}},"y":{"field":"lo","type":"quantitative","title":null,"scale":{"domain":[-0.47,15.5],"nice":false,"zero":false},"axis":{"values":[0,5,10,15],"tickCount":20}},"y2":{"field":"hi"}}},
{"data":{"name":"pts"},"transform":[{"filter":"datum.p==='I'"}],"mark":"circle","encoding":{"x":{"field":"x","type":"quantitative","title":null},"y":{"field":"y","type":"quantitative","title":null}}},
{"data":{"name":"fit"},"transform":[{"filter":"datum.p==='I'"}],"mark":"line","encoding":{"x":{"field":"x","type":"quantitative","title":null},"y":{"field":"y","type":"quantitative","title":null}}},
{"data":{"values":[{}]},"mark":{"type":"text","text":"I. Temperate coral","align":"left","baseline":"top","dx":4,"dy":3,"fontSize":16.5,"color":"#1a1a1a"},"encoding":{"x":{"datum":0.448},"y":{"datum":15.5}}}]},
{"width":280,"height":157,"layer":[
{"data":{"name":"fit"},"transform":[{"filter":"datum.p==='J'"}],"mark":"area","encoding":{"x":{"field":"x","type":"quantitative","title":null,"scale":{"domain":[0.483,2.05],"nice":false,"zero":false},"axis":{"values":[0.5,1,1.5,2]}},"y":{"field":"lo","type":"quantitative","title":null,"scale":{"domain":[-31.1,22.1],"nice":false,"zero":false},"axis":{"values":[-30,-20,-10,0,10,20],"tickCount":20}},"y2":{"field":"hi"}}},
{"data":{"name":"pts"},"transform":[{"filter":"datum.p==='J'"}],"mark":"circle","encoding":{"x":{"field":"x","type":"quantitative","title":null},"y":{"field":"y","type":"quantitative","title":null}}},
{"data":{"name":"fit"},"transform":[{"filter":"datum.p==='J'"}],"mark":"line","encoding":{"x":{"field":"x","type":"quantitative","title":null},"y":{"field":"y","type":"quantitative","title":null}}},
{"data":{"values":[{}]},"mark":{"type":"text","text":"J. Pencil urchin","align":"left","baseline":"top","dx":4,"dy":3,"fontSize":16.5,"color":"#1a1a1a"},"encoding":{"x":{"datum":0.483},"y":{"datum":22.1}}}]},
{"width":280,"height":157,"layer":[
{"data":{"name":"fit"},"transform":[{"filter":"datum.p==='K'"}],"mark":"area","encoding":{"x":{"field":"x","type":"quantitative","title":null,"scale":{"domain":[0.433,2.687],"nice":false,"zero":false},"axis":{"values":[0.5,1,1.5,2,2.5]}},"y":{"field":"lo","type":"quantitative","title":null,"scale":{"domain":[-2.06,2.14],"nice":false,"zero":false},"axis":{"values":[-2,-1,0,1,2],"tickCount":20}},"y2":{"field":"hi"}}},
{"data":{"name":"pts"},"transform":[{"filter":"datum.p==='K'"}],"mark":"circle","encoding":{"x":{"field":"x","type":"quantitative","title":null},"y":{"field":"y","type":"quantitative","title":null}}},
{"data":{"name":"fit"},"transform":[{"filter":"datum.p==='K'"}],"mark":"line","encoding":{"x":{"field":"x","type":"quantitative","title":null},"y":{"field":"y","type":"quantitative","title":null}}},
{"data":{"values":[{}]},"mark":{"type":"text","text":"K. Hard clam","align":"left","baseline":"top","dx":4,"dy":3,"fontSize":16.5,"color":"#1a1a1a"},"encoding":{"x":{"datum":0.433},"y":{"datum":2.14}}}]},
{"width":280,"height":157,"layer":[
{"data":{"name":"fit"},"transform":[{"filter":"datum.p==='L'"}],"mark":"area","encoding":{"x":{"field":"x","type":"quantitative","title":null,"scale":{"domain":[0.46,2.54],"nice":false,"zero":false},"axis":{"values":[0.5,1,1.5,2,2.5]}},"y":{"field":"lo","type":"quantitative","title":null,"scale":{"domain":[-6.14,3.03],"nice":false,"zero":false},"axis":{"values":[-6,-4,-2,0,2],"tickCount":20}},"y2":{"field":"hi"}}},
{"data":{"name":"pts"},"transform":[{"filter":"datum.p==='L'"}],"mark":"circle","encoding":{"x":{"field":"x","type":"quantitative","title":null},"y":{"field":"y","type":"quantitative","title":null}}},
{"data":{"name":"fit"},"transform":[{"filter":"datum.p==='L'"}],"mark":"line","encoding":{"x":{"field":"x","type":"quantitative","title":null},"y":{"field":"y","type":"quantitative","title":null}}},
{"data":{"values":[{}]},"mark":{"type":"text","text":"L. Conch","align":"left","baseline":"top","dx":4,"dy":3,"fontSize":16.5,"color":"#1a1a1a"},"encoding":{"x":{"datum":0.46},"y":{"datum":3.03}}}]},
{"width":280,"height":157,"layer":[
{"data":{"name":"fit"},"transform":[{"filter":"datum.p==='M'"}],"mark":"area","encoding":{"x":{"field":"x","type":"quantitative","title":null,"scale":{"domain":[0.448,2.644],"nice":false,"zero":false},"axis":{"values":[0.5,1,1.5,2,2.5]}},"y":{"field":"lo","type":"quantitative","title":null,"scale":{"domain":[-12.3,31.9],"nice":false,"zero":false},"axis":{"values":[-10,0,10,20,30],"tickCount":20}},"y2":{"field":"hi"}}},
{"data":{"name":"pts"},"transform":[{"filter":"datum.p==='M'"}],"mark":"circle","encoding":{"x":{"field":"x","type":"quantitative","title":null},"y":{"field":"y","type":"quantitative","title":null}}},
{"data":{"name":"fit"},"transform":[{"filter":"datum.p==='M'"}],"mark":"line","encoding":{"x":{"field":"x","type":"quantitative","title":null},"y":{"field":"y","type":"quantitative","title":null}}},
{"data":{"values":[{}]},"mark":{"type":"text","text":"M. Serpulid worm","align":"left","baseline":"top","dx":4,"dy":3,"fontSize":16.5,"color":"#1a1a1a"},"encoding":{"x":{"datum":0.448},"y":{"datum":31.9}}}]},
{"width":280,"height":157,"layer":[
{"data":{"name":"fit"},"transform":[{"filter":"datum.p==='N'"}],"mark":"area","encoding":{"x":{"field":"x","type":"quantitative","title":null,"scale":{"domain":[0.46,2.54],"nice":false,"zero":false},"axis":{"values":[0.5,1,1.5,2,2.5]}},"y":{"field":"lo","type":"quantitative","title":null,"scale":{"domain":[-10.8,10.8],"nice":false,"zero":false},"axis":{"values":[-10,-5,0,5,10],"tickCount":20}},"y2":{"field":"hi"}}},
{"data":{"name":"pts"},"transform":[{"filter":"datum.p==='N'"}],"mark":"circle","encoding":{"x":{"field":"x","type":"quantitative","title":null},"y":{"field":"y","type":"quantitative","title":null}}},
{"data":{"name":"fit"},"transform":[{"filter":"datum.p==='N'"}],"mark":"line","encoding":{"x":{"field":"x","type":"quantitative","title":null},"y":{"field":"y","type":"quantitative","title":null}}},
{"data":{"values":[{}]},"mark":{"type":"text","text":"N. Periwinkle","align":"left","baseline":"top","dx":4,"dy":3,"fontSize":16.5,"color":"#1a1a1a"},"encoding":{"x":{"datum":0.46},"y":{"datum":10.8}}}]},
{"width":280,"height":157,"layer":[
{"data":{"name":"fit"},"transform":[{"filter":"datum.p==='O'"}],"mark":"area","encoding":{"x":{"field":"x","type":"quantitative","title":null,"scale":{"domain":[0.433,2.687],"nice":false,"zero":false},"axis":{"values":[0.5,1,1.5,2,2.5]}},"y":{"field":"lo","type":"quantitative","title":null,"scale":{"domain":[-0.69,10.49],"nice":false,"zero":false},"axis":{"values":[0,2,4,6,8,10],"tickCount":20}},"y2":{"field":"hi"}}},
{"data":{"name":"pts"},"transform":[{"filter":"datum.p==='O'"}],"mark":"circle","encoding":{"x":{"field":"x","type":"quantitative","title":null},"y":{"field":"y","type":"quantitative","title":null}}},
{"data":{"name":"fit"},"transform":[{"filter":"datum.p==='O'"}],"mark":"line","encoding":{"x":{"field":"x","type":"quantitative","title":null},"y":{"field":"y","type":"quantitative","title":null}}},
{"data":{"values":[{}]},"mark":{"type":"text","text":"O. Bay scallop","align":"left","baseline":"top","dx":4,"dy":3,"fontSize":16.5,"color":"#1a1a1a"},"encoding":{"x":{"datum":0.433},"y":{"datum":10.49}}}]},
{"width":280,"height":157,"resolve":{"axis":{"x":"independent"}},"layer":[
{"data":{"name":"fit"},"transform":[{"filter":"datum.p==='P'"}],"mark":"area","encoding":{"x":{"field":"x","type":"quantitative","scale":{"domain":[0.433,2.687],"nice":false,"zero":false},"axis":{"values":[0.5,1,1.5,2,2.5],"title":"Ω","titleFontSize":22,"titleX":100,"titleY":36,"titleAlign":"left","titleBaseline":"alphabetic"}},"y":{"field":"lo","type":"quantitative","title":null,"scale":{"domain":[-0.07,2.675],"nice":false,"zero":false},"axis":{"values":[0,0.5,1,1.5,2,2.5],"tickCount":20,"labelExpr":"format(datum.value,'.1f')"}},"y2":{"field":"hi"}}},
{"data":{"name":"pts"},"transform":[{"filter":"datum.p==='P'"}],"mark":"circle","encoding":{"x":{"field":"x","type":"quantitative","axis":{"orient":"bottom","title":"aragonite","labels":false,"ticks":false,"domain":false,"grid":false,"titleFontSize":14,"titleX":115,"titleY":40,"titleAlign":"left","titleBaseline":"alphabetic"}},"y":{"field":"y","type":"quantitative","title":null}}},
{"data":{"name":"fit"},"transform":[{"filter":"datum.p==='P'"}],"mark":"line","encoding":{"x":{"field":"x","type":"quantitative","axis":null},"y":{"field":"y","type":"quantitative","title":null}}},
{"data":{"values":[{}]},"mark":{"type":"text","text":"P. Oyster","align":"left","baseline":"top","dx":4,"dy":3,"fontSize":16.5,"color":"#1a1a1a"},"encoding":{"x":{"datum":0.433,"axis":null},"y":{"datum":2.675}}}]},
{"width":280,"height":157,"resolve":{"axis":{"x":"independent"}},"layer":[
{"data":{"name":"fit"},"transform":[{"filter":"datum.p==='Q'"}],"mark":"area","encoding":{"x":{"field":"x","type":"quantitative","scale":{"domain":[0.46,2.54],"nice":false,"zero":false},"axis":{"values":[0.5,1,1.5,2,2.5],"title":"Ω","titleFontSize":22,"titleX":100,"titleY":36,"titleAlign":"left","titleBaseline":"alphabetic"}},"y":{"field":"lo","type":"quantitative","title":null,"scale":{"domain":[-2.3,6.3],"nice":false,"zero":false},"axis":{"values":[-2,0,2,4,6],"tickCount":20}},"y2":{"field":"hi"}}},
{"data":{"name":"pts"},"transform":[{"filter":"datum.p==='Q'"}],"mark":"circle","encoding":{"x":{"field":"x","type":"quantitative","axis":{"orient":"bottom","title":"aragonite","labels":false,"ticks":false,"domain":false,"grid":false,"titleFontSize":14,"titleX":115,"titleY":40,"titleAlign":"left","titleBaseline":"alphabetic"}},"y":{"field":"y","type":"quantitative","title":null}}},
{"data":{"name":"fit"},"transform":[{"filter":"datum.p==='Q'"}],"mark":"line","encoding":{"x":{"field":"x","type":"quantitative","axis":null},"y":{"field":"y","type":"quantitative","title":null}}},
{"data":{"values":[{}]},"mark":{"type":"text","text":"Q. Whelk","align":"left","baseline":"top","dx":4,"dy":3,"fontSize":16.5,"color":"#1a1a1a"},"encoding":{"x":{"datum":0.46,"axis":null},"y":{"datum":6.3}}}]},
{"width":280,"height":157,"resolve":{"axis":{"x":"independent"}},"layer":[
{"data":{"name":"fit"},"transform":[{"filter":"datum.p==='R'"}],"mark":"area","encoding":{"x":{"field":"x","type":"quantitative","scale":{"domain":[0.433,2.687],"nice":false,"zero":false},"axis":{"values":[0.5,1,1.5,2,2.5],"title":"Ω","titleFontSize":22,"titleX":100,"titleY":36,"titleAlign":"left","titleBaseline":"alphabetic"}},"y":{"field":"lo","type":"quantitative","title":null,"scale":{"domain":[-21,22.9],"nice":false,"zero":false},"axis":{"values":[-20,-10,0,10,20],"tickCount":20}},"y2":{"field":"hi"}}},
{"data":{"name":"pts"},"transform":[{"filter":"datum.p==='R'"}],"mark":"circle","encoding":{"x":{"field":"x","type":"quantitative","axis":{"orient":"bottom","title":"aragonite","labels":false,"ticks":false,"domain":false,"grid":false,"titleFontSize":14,"titleX":115,"titleY":40,"titleAlign":"left","titleBaseline":"alphabetic"}},"y":{"field":"y","type":"quantitative","title":null}}},
{"data":{"name":"fit"},"transform":[{"filter":"datum.p==='R'"}],"mark":"line","encoding":{"x":{"field":"x","type":"quantitative","axis":null},"y":{"field":"y","type":"quantitative","title":null}}},
{"data":{"values":[{}]},"mark":{"type":"text","text":"R. Soft clam","align":"left","baseline":"top","dx":4,"dy":3,"fontSize":16.5,"color":"#1a1a1a"},"encoding":{"x":{"datum":0.433,"axis":null},"y":{"datum":22.9}}}]}
],
"config": {
"font": "Liberation Sans",
"view": {"stroke": "#e4e4e4", "strokeWidth": 1.5},
"axis": {"labelFont": "Liberation Sans", "labelColor": "#2b2b2b", "domainColor": "#333333", "domainWidth": 1.2, "tickColor": "#333333", "tickSize": 3, "tickWidth": 1, "labelPadding": 1, "gridColor": "#ececec", "gridWidth": 1, "titleFont": "Liberation Sans", "titleFontWeight": "normal", "titleColor": "#1a1a1a"},
"axisX": {"grid": false, "labelFontSize": 16, "labelFlush": false, "labelOverlap": false, "labelExpr": "format(datum.value,'.1f')"},
"axisY": {"grid": true, "labelFontSize": 13.5, "labelOverlap": false, "labelExpr": "'' + datum.value"},
"circle": {"size": 22, "opacity": 1, "color": "#606060"},
"line": {"color": "#1a1a1a", "strokeWidth": 1.3, "interpolate": "basis"},
"area": {"color": "#999999", "opacity": 0.4, "interpolate": "basis"}
}
}
